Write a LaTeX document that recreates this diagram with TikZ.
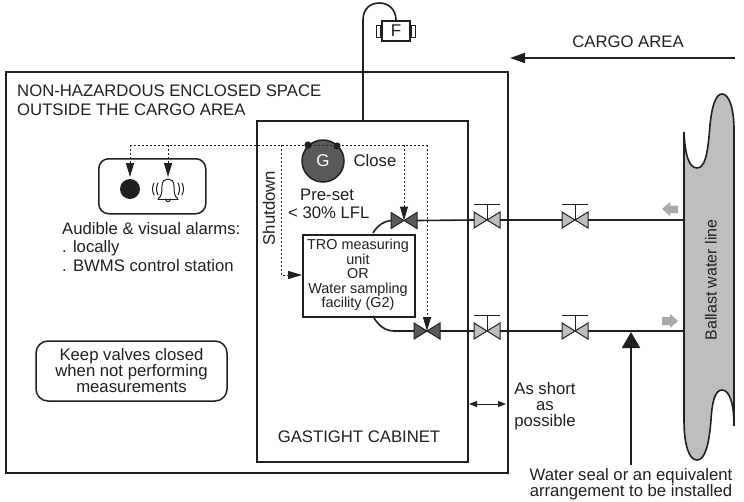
\documentclass[tikz,border=0pt]{standalone}
\usepackage{fontspec}
\setmainfont{Liberation Sans}
\usetikzlibrary{arrows.meta,calc}
\definecolor{ln}{HTML}{231F20}
\definecolor{vg}{HTML}{BCBEC0}
\definecolor{dk}{HTML}{58595B}
\definecolor{ag}{HTML}{A7A9AC}
\tikzset{
 wall/.style={draw=ln,line width=2.4pt},
 pipe/.style={draw=ln,line width=1.6pt},
 dots/.style={draw=ln,line width=1pt,dash pattern=on 2pt off 2pt},
 tip/.style={-{Triangle[length=14pt,width=8pt,fill=ln]}},
 txt/.style={text=ln,font=\fontsize{16.7}{16}\selectfont,inner sep=0pt,align=center},
 small/.style={text=ln,font=\fontsize{14.4}{14.5}\selectfont,inner sep=0pt,align=center},
 lft/.style={txt,anchor=base west,align=left},
 rbox/.style={draw=ln,line width=1.5pt,rounded corners=10pt,fill=white},
}
\newcommand{\myvalve}[4]{% name, x, y, fill
 \coordinate (#1) at (#2,#3);
 \coordinate (#1L) at (#2-13,#3);
 \coordinate (#1R) at (#2+13,#3);
 \filldraw[draw=ln,fill=#4,line width=1pt,line join=miter] (#2-13,#3-8) -- (#2+13,#3+8) -- (#2+13,#3-8) -- (#2-13,#3+8) -- cycle;
}
\newcommand{\mystem}[1]{%
 \draw[draw=ln,line width=1pt] (#1) -- ++(0,-16) ++(-13,0) -- ++(26,0);
}
\begin{document}
\begin{tikzpicture}[x=1pt,y=-1pt]
\useasboundingbox (0,0) rectangle (744,501);
% walls
\node[wall,minimum width=502pt,minimum height=401pt,inner sep=0pt,anchor=north west] (outer) at (5,71) {};
\node[wall,fill=white,minimum width=211pt,minimum height=341pt,inner sep=0pt,anchor=north west] (cab) at (256,120) {};
% ballast line
\filldraw[draw=ln,fill=vg,line width=1.6pt] (684,132)
 .. controls (685,155) and (689,168) .. (697,168)
 .. controls (706,168) and (708,150) .. (710,125)
 .. controls (712,105) and (716,94) .. (722,94)
 .. controls (729,94) and (734,108) .. (734,130)
 -- (734,426)
 .. controls (734,405) and (730,390) .. (722,390)
 .. controls (715,390) and (712,402) .. (711,420)
 .. controls (709,445) and (705,460) .. (697,460)
 .. controls (689,460) and (684,445) .. (684,420)
 -- cycle;
\node[small,font=\fontsize{16}{15}\selectfont,rotate=90] (bl) at (711,280) {Ballast water line};
% F device
\coordinate (fstart) at (363,120);
\node[draw=ln,line width=1.6pt,minimum width=28pt,minimum height=20pt,inner sep=0pt,text=ln,font=\fontsize{17}{16}\selectfont] (F) at (396,31) {F};
\node[draw=ln,line width=1pt,minimum width=4pt,minimum height=12pt,inner sep=0pt,anchor=east] (fl) at (F.west) {};
\node[draw=ln,line width=1pt,minimum width=4pt,minimum height=12pt,inner sep=0pt,anchor=west] (fr) at (F.east) {};
\draw[pipe] (fstart) -- (363,20) .. controls (363,8) and (371,3) .. (379.5,3) .. controls (388,3) and (396,9) .. (F.north);
% valves, pipes
\coordinate (hullU) at (684,220);
\coordinate (hullL) at (684,331);
\myvalve{vu1}{404}{220.5}{dk}
\myvalve{vl1}{427}{331}{dk}
\myvalve{vu2}{487}{220}{vg}
\myvalve{vu3}{575}{220}{vg}
\myvalve{vl2}{487}{331}{vg}
\myvalve{vl3}{575}{331}{vg}
\draw[pipe] (vu1R) -- (vu2L) (vu2R) -- (vu3L) (vu3R) -- (hullU);
\draw[pipe] (vl1R) -- (vl2L) (vl2R) -- (vl3L) (vl3R) -- (hullL);
\mystem{vu2}\mystem{vu3}\mystem{vl2}\mystem{vl3}
% TRO
\node[wall,line width=2pt,minimum width=112pt,minimum height=82pt,inner sep=0pt,small,anchor=north west,fill=white] (tro) at (302,234) {};
\node[small] (trot) at (358,275) {TRO measuring\\unit\\OR\\Water sampling\\facility (G2)};
\coordinate (trou) at (373,233);
\coordinate (trol) at (373,316);
\draw[pipe] (trou) .. controls (377,226) and (384,221) .. (vu1L);
\draw[pipe] (trol) .. controls (378,326) and (386,331) .. (394,331) -- (vl1L);
% gas detector
\node[circle,draw=ln,fill=dk,line width=1.5pt,minimum size=42pt,inner sep=0pt,text=white,font=\fontsize{17}{16}\selectfont] (G) at (323,161) {G};
\coordinate (gl) at (308,145);
\coordinate (gr) at (337,146);
% alarm box
\node[rbox,minimum width=107pt,minimum height=55pt,inner sep=0pt,anchor=north west] (alarm) at (98,158) {};
\node[circle,fill=ln,minimum size=20pt,inner sep=0pt] (lamp) at (130,189) {};
\coordinate (bellc) at (168,190);
\coordinate (bell) at (168,177);
\begin{scope}[shift={(bellc)},draw=ln,line width=1pt,line cap=round]
 \draw (-10,9) -- (10,9);
 \draw (-10,9) .. controls (-6,6) and (-6,2) .. (-6,-4) .. controls (-6,-9) and (-3,-11) .. (0,-11) .. controls (3,-11) and (6,-9) .. (6,-4) .. controls (6,2) and (6,6) .. (10,9);
 \draw (-2.5,9) .. controls (-2,12.5) and (2,12.5) .. (2.5,9);
 \draw (-10,-7) .. controls (-12,-3) and (-12,1) .. (-10,5);
 \draw (-14,-7) .. controls (-16,-3) and (-16,1) .. (-14,5);
 \draw (10,-7) .. controls (12,-3) and (12,1) .. (10,5);
 \draw (14,-7) .. controls (16,-3) and (16,1) .. (14,5);
\end{scope}
% dotted signals
\coordinate (sigl) at (130,145);
\coordinate (sigb) at (168,145);
\coordinate (sigv) at (404,145);
\coordinate (sigr) at (427,145);
\coordinate (sigs) at (281,145);
\draw[dots] (sigl) -- (sigr);
\draw[dots,tip] (sigl) -- (130,177);
\draw[dots,tip] (sigb) -- (bell);
\draw[dots,tip] (sigv) -- (vu1);
\draw[dots,tip] (sigr) -- (vl1);
\draw[dots,tip] (sigs) -- (281,275) -- (tro.west |- 0,275);
\fill[ln] (gl) circle (3.6pt) (gr) circle (3.6pt);
% grey flow arrows
\fill[ag] (662,209) -- (670,202) -- (670,205.5) -- (678,205.5) -- (678,213) -- (670,213) -- (670,216) -- cycle;
\fill[ag] (678,321) -- (670,314) -- (670,317) -- (662,317) -- (662,325) -- (670,325) -- (670,328) -- cycle;
% other arrows
\coordinate (ca1) at (735,58);
\coordinate (ca2) at (510,58);
\draw[draw=ln,line width=1.6pt,-{Triangle[length=15pt,width=10pt,fill=ln]}] (ca1) -- (ca2);
\coordinate (ws1) at (631,465);
\coordinate (ws2) at (631,332);
\draw[draw=ln,line width=2pt,-{Triangle[length=16pt,width=18pt,fill=ln]}] (ws1) -- (ws2);
\coordinate (s1) at (469,404);
\coordinate (s2) at (506,404);
\draw[draw=ln,line width=1pt,{Triangle[length=8pt,width=6pt,fill=ln]}-{Triangle[length=8pt,width=6pt,fill=ln]}] (s1) -- (s2);
% texts
\node[txt] (cargo) at (628,42) {CARGO AREA};
\node[lft] (nh1) at (17,96) {NON-HAZARDOUS ENCLOSED SPACE};
\node[lft] (nh2) at (17,115) {OUTSIDE THE CARGO AREA};
\node[txt,anchor=base] (close) at (375,166) {Close};
\node[lft] (ps1) at (300,200) {Pre-set};
\node[lft] (ps2) at (288,218) {< 30\% LFL};
\node[txt,rotate=90] (sd) at (269,208) {Shutdown};
\node[lft] (au1) at (62,234) {Audible \& visual alarms:};
\node[lft] (au2) at (62,252) {. locally};
\node[lft] (au3) at (62,271) {. BWMS control station};
\node[rbox,rounded corners=12pt,minimum width=191pt,minimum height=60pt,inner sep=0pt,txt] (keep) at (131.5,371) {Keep valves closed\\when not performing\\measurements};
\node[txt] (gc) at (359,437) {GASTIGHT CABINET};
\node[txt] (as) at (545,406) {As short\\as\\possible};
\node[txt,anchor=south,font=\fontsize{16.7}{14}\selectfont] (ws) at (631,500.5) {Water seal or an equivalent\\arrangement to be installed};
\end{tikzpicture}
\end{document}
